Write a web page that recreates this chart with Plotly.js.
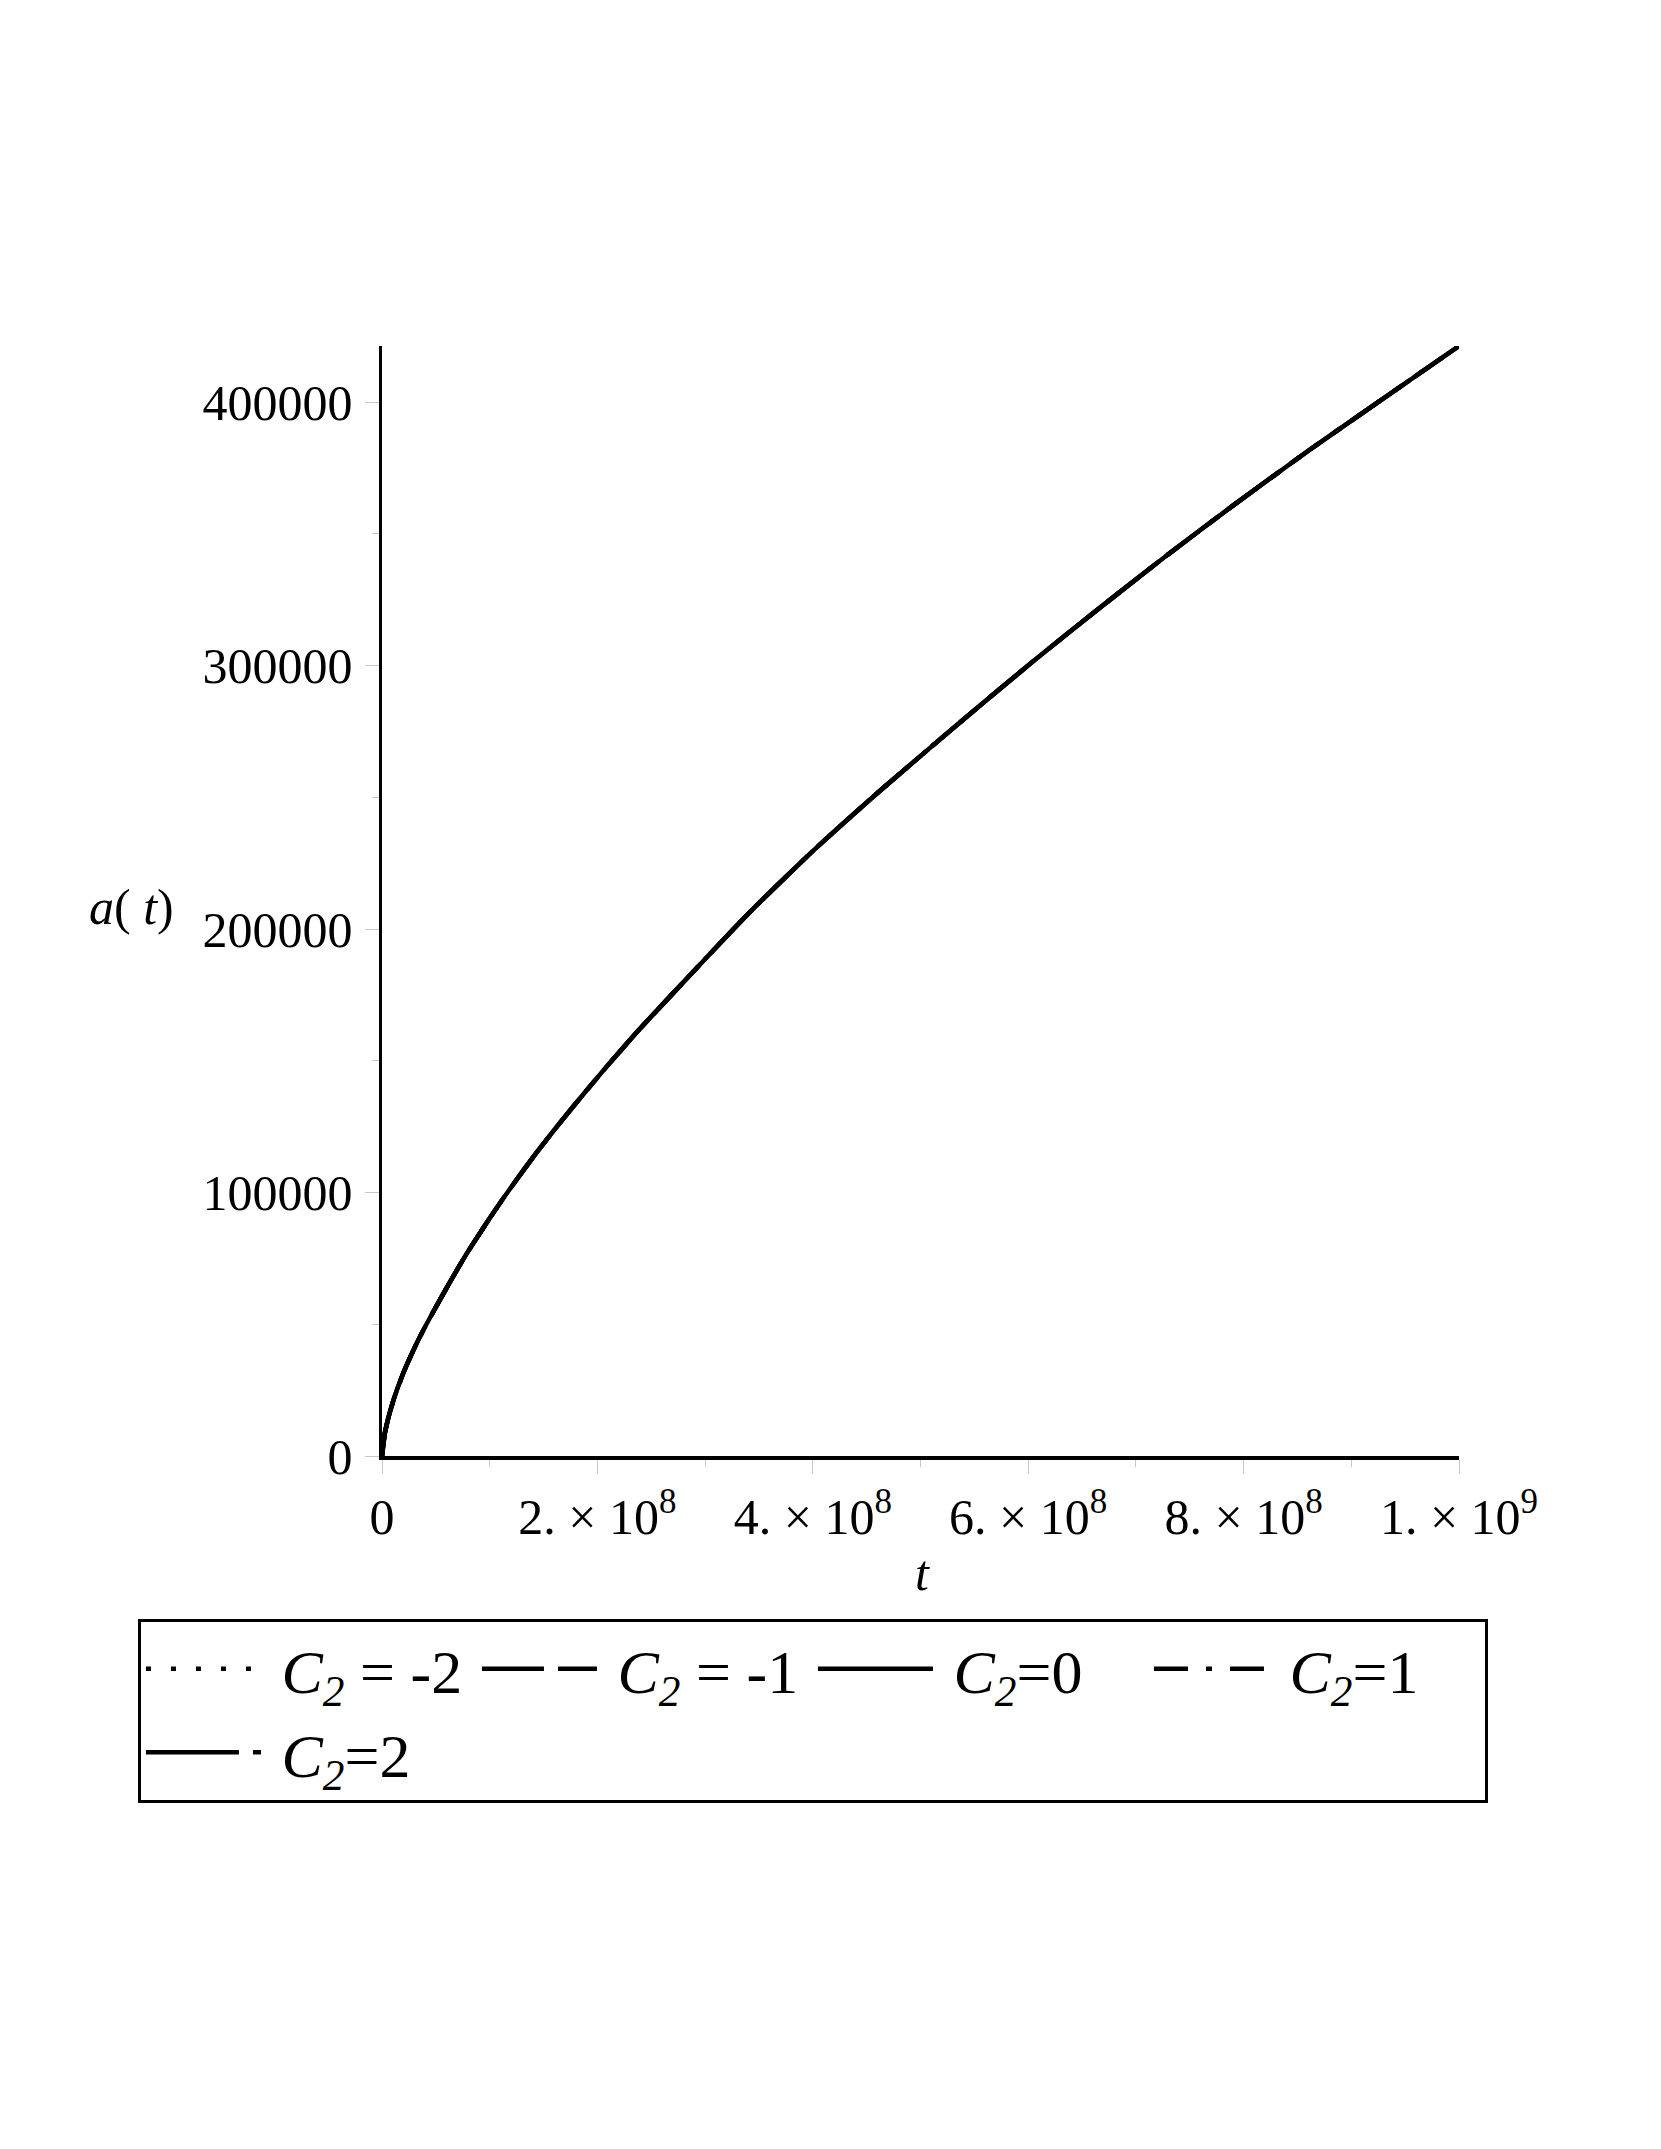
<!DOCTYPE html>
<html>
<head>
<meta charset="utf-8">
<script src="https://cdn.plot.ly/plotly-3.0.1.min.js"></script>
<style>
  html, body { margin: 0; padding: 0; background: #ffffff; }
  #chart { width: 1661px; height: 2149px; }
</style>
</head>
<body>
<div id="chart"></div>
<script>
// Values
const tValues = [0, 2.8e6, 1.05e7, 1.98e7, 3.2e7, 4.15e7, 5.7e7, 6.9e7, 8.2e7,
  1.126e8, 1.436e8, 1.746e8, 2.055e8, 2.365e8, 2.66e8, 3.386e8, 4.005e8,
  4.624e8, 5.429e8, 6.048e8, 6.667e8, 7.286e8, 7.904e8, 8.617e8, 1.0e9];
const aValues = [0, 9000, 21000, 31500, 42600, 50200, 61600, 70200, 79000,
  97800, 115200, 131200, 146300, 160800, 173800, 205200, 229800,
  252500, 280600, 301700, 322000, 341800, 360800, 382000, 421300];
const c2Values = [-2, -1, 0, 1, 2];
const legendLabels = [
  '\u00A0<i>C</i><sub><i>2</i></sub> = -2',
  '\u00A0<i>C</i><sub><i>2</i></sub> = -1',
  '\u00A0<i>C</i><sub><i>2</i></sub>=0',
  '\u00A0<i>C</i><sub><i>2</i></sub>=1',
  '\u00A0<i>C</i><sub><i>2</i></sub>=2'
];
const dashStyles = ['5px,20px', '62px,14px', 'solid', '34px,18px,6px,18px', '93px,14px,11px,40px'];
const xTickVals = [0, 2e8, 4e8, 6e8, 8e8, 1e9];
const xTickText = ['0', '2. × 10<sup>8</sup>', '4. × 10<sup>8</sup>', '6. × 10<sup>8</sup>', '8. × 10<sup>8</sup>', '1. × 10<sup>9</sup>'];
const yTickVals = [0, 100000, 200000, 300000, 400000];
const yTickText = ['0', '100000', '200000', '300000', '400000'];

const serif = '"Liberation Serif", "Times New Roman", serif';

const traces = c2Values.map((c, i) => ({
  x: tValues,
  y: aValues,
  type: 'scatter',
  mode: 'lines',
  name: legendLabels[i],
  line: { color: '#000000', width: 4.5, dash: dashStyles[i], shape: 'spline', smoothing: 0.5 }
}));

const layout = {
  width: 1661,
  height: 2149,
  paper_bgcolor: '#ffffff',
  plot_bgcolor: '#ffffff',
  margin: { l: 382, r: 202, t: 346, b: 693 },
  font: { family: serif, size: 50, color: '#000000' },
  showlegend: true,
  xaxis: {
    range: [0, 1e9],
    showgrid: false,
    zeroline: false,
    showline: true,
    linecolor: '#000000',
    linewidth: 3.5,
    ticks: 'outside',
    ticklen: 14,
    tickwidth: 1,
    tickcolor: '#c8c8c8',
    tickvals: xTickVals,
    ticktext: xTickText,
    tickfont: { family: serif, size: 50, color: '#000000' },
    minor: { dtick: 1e8, ticks: 'outside', ticklen: 7, tickcolor: '#c8c8c8', tickwidth: 1, showgrid: false },
    fixedrange: true
  },
  yaxis: {
    range: [0, 421300],
    showgrid: false,
    zeroline: false,
    showline: true,
    linecolor: '#000000',
    linewidth: 3.5,
    ticks: 'outside',
    ticklen: 14,
    tickwidth: 1,
    tickcolor: '#c8c8c8',
    tickvals: yTickVals,
    ticktext: yTickText,
    ticklabelstandoff: 2,
    tickfont: { family: serif, size: 50, color: '#000000' },
    minor: { dtick: 50000, ticks: 'outside', ticklen: 7, tickcolor: '#c8c8c8', tickwidth: 1, showgrid: false },
    fixedrange: true
  },
  legend: {
    orientation: 'h',
    x: -0.2266,
    xanchor: 'left',
    y: -0.1468,
    yanchor: 'top',
    bgcolor: '#ffffff',
    bordercolor: '#000000',
    borderwidth: 3,
    itemwidth: 115,
    entrywidth: 206,
    entrywidthmode: 'pixels',
    font: { family: serif, size: 62, color: '#000000' },
    traceorder: 'normal'
  },
  annotations: [
    {
      text: '<i>a</i>( <i>t</i>)',
      xref: 'paper', yref: 'paper',
      x: -0.233, y: 0.4946,
      xanchor: 'center', yanchor: 'middle',
      showarrow: false,
      font: { family: serif, size: 50, color: '#000000' }
    },
    {
      text: '<i>t</i>',
      xref: 'paper', yref: 'paper',
      x: 0.5014, y: -0.1054,
      xanchor: 'center', yanchor: 'middle',
      showarrow: false,
      font: { family: serif, size: 50, color: '#000000' }
    }
  ]
};

Plotly.newPlot('chart', traces, layout, { displayModeBar: false, staticPlot: true });
</script>
</body>
</html>
